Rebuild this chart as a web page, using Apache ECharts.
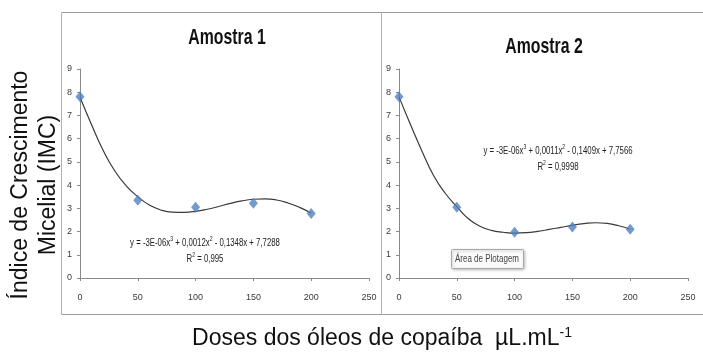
<!DOCTYPE html>
<html><head><meta charset="utf-8">
<script src="https://cdn.jsdelivr.net/npm/echarts@6/dist/echarts.min.js"></script>
<style>html,body{margin:0;padding:0;background:#fff}#c{width:703px;height:354px}</style>
</head><body><div id="c"></div>
<script>
const doses = [0, 50, 100, 150, 200];
const amostra1 = [7.8, 3.35, 3.05, 3.22, 2.78];
const amostra2 = [7.8, 3.05, 1.97, 2.2, 2.1];
const trendX = [0,10,20,30,40,50,60,70,80,90,100,110,120,130,140,150,160,170,180,190,200];
const trend1 = [7.78,6.6,5.5,4.62,3.97,3.5,3.14,2.93,2.84,2.83,2.87,2.96,3.08,3.21,3.32,3.39,3.41,3.36,3.23,3.04,2.79];
const trend2 = [7.8,6.6,5.45,4.4,3.65,3.07,2.55,2.23,2.05,1.97,1.93,1.95,2.01,2.09,2.18,2.27,2.34,2.38,2.35,2.25,2.1];
const xTicks = [0, 250, 50];
const yTicks = [0, 9, 1];
const titles = ['Amostra 1', 'Amostra 2'];
const eq1 = ['{n|y = -3E-06x}{s|3}{n| + 0,0012x}{s|2}{n| - 0,1348x + 7,7288}', '{n|R}{s|2}{n| = 0,995}'];
const eq2 = ['{n|y = -3E-06x}{s|3}{n| + 0,0011x}{s|2}{n| - 0,1409x + 7,7566}', '{n|R}{s|2}{n| = 0,9998}'];

const sans = "'Liberation Sans', Arial, sans-serif";
const axisCommon = (isX) => ({
  min: isX ? xTicks[0] : yTicks[0], max: isX ? xTicks[1] : yTicks[1], interval: isX ? xTicks[2] : yTicks[2],
  axisLine: {show: true, lineStyle: {color: '#8a8a8a', width: 1}},
  axisTick: {show: true, length: 3, lineStyle: {color: '#8a8a8a'}},
  splitLine: {show: false},
  axisLabel: {color: '#3a3a3a', fontSize: 9, fontFamily: sans, margin: isX ? 15 : 8}
});
function pairs(xs, ys){ return xs.map((x,i)=>[x, ys[i]]); }

const chart = echarts.init(document.getElementById('c'), null, {renderer: 'canvas'});
const grids = [
  {left: 80, top: 69, width: 289, height: 209},
  {left: 399, top: 69, width: 289, height: 209}
];
const eqLine = (txt, cx, cy) => ({
  type: 'text', x: cx, y: cy, scaleX: 0.78,
  style: {
    text: txt,
    rich: {
      n: {fontSize: 10, fontFamily: sans, fill: '#222', lineHeight: 12, verticalAlign: 'bottom'},
      s: {fontSize: 6.5, fontFamily: sans, fill: '#222', lineHeight: 12, verticalAlign: 'top'}
    },
    align: 'center', verticalAlign: 'middle'
  }
});
const titleText = (txt, cx, cy) => ({
  type: 'text', x: cx, y: cy, scaleX: 0.72,
  style: {text: txt, font: 'bold 22px ' + sans, fill: '#111', align: 'center', verticalAlign: 'middle'}
});
chart.setOption({
  animation: false,
  grid: grids,
  xAxis: [Object.assign({gridIndex: 0, type: 'value'}, axisCommon(true)), Object.assign({gridIndex: 1, type: 'value'}, axisCommon(true))],
  yAxis: [Object.assign({gridIndex: 0, type: 'value'}, axisCommon(false)), Object.assign({gridIndex: 1, type: 'value'}, axisCommon(false))],
  series: [
    {type: 'line', xAxisIndex: 0, yAxisIndex: 0, data: pairs(trendX, trend1), smooth: 0.5, showSymbol: false, lineStyle: {color: '#3a3a3a', width: 1.2}, z: 2},
    {type: 'line', xAxisIndex: 1, yAxisIndex: 1, data: pairs(trendX, trend2), smooth: 0.5, showSymbol: false, lineStyle: {color: '#3a3a3a', width: 1.2}, z: 2},
    {type: 'scatter', xAxisIndex: 0, yAxisIndex: 0, data: pairs(doses, amostra1), symbol: 'diamond', symbolSize: [9, 11], itemStyle: {color: '#4f81bd'}, z: 3},
    {type: 'scatter', xAxisIndex: 1, yAxisIndex: 1, data: pairs(doses, amostra2), symbol: 'diamond', symbolSize: [9, 11], itemStyle: {color: '#4f81bd'}, z: 3}
  ],
  graphic: [
    {type: 'line', shape: {x1: 61.5, y1: 12.5, x2: 703, y2: 12.5}, style: {stroke: '#9a9a9a', lineWidth: 1}},
    {type: 'line', shape: {x1: 61.5, y1: 12.5, x2: 61.5, y2: 314.5}, style: {stroke: '#b0b0b0', lineWidth: 1}},
    {type: 'line', shape: {x1: 61.5, y1: 314.5, x2: 703, y2: 314.5}, style: {stroke: '#9a9a9a', lineWidth: 1}},
    {type: 'line', shape: {x1: 381.5, y1: 12.5, x2: 381.5, y2: 314.5}, style: {stroke: '#b0b0b0', lineWidth: 1}},
    titleText(titles[0], 227, 38),
    titleText(titles[1], 544, 47),
    eqLine(eq1[0], 205, 242), eqLine(eq1[1], 205, 258),
    eqLine(eq2[0], 558, 150), eqLine(eq2[1], 558, 166),
    {type: 'rect', shape: {x: 451.5, y: 249.5, width: 72, height: 19, r: 1},
     style: {fill: '#fbfbfb', stroke: '#a8a8a8', lineWidth: 1, shadowBlur: 3, shadowOffsetX: 1, shadowOffsetY: 1, shadowColor: 'rgba(0,0,0,0.25)'}},
    {type: 'text', x: 487, y: 259, scaleX: 0.8, style: {text: 'Área de Plotagem', font: '10px ' + sans, fill: '#444', align: 'center', verticalAlign: 'middle'}},
    {type: 'text', x: 21, y: 185, rotation: Math.PI/2, style: {text: 'Índice de Crescimento', font: '23px ' + sans, fill: '#111', align: 'center', verticalAlign: 'middle'}},
    {type: 'text', x: 49, y: 185, rotation: Math.PI/2, style: {text: 'Micelial (IMC)', font: '23px ' + sans, fill: '#111', align: 'center', verticalAlign: 'middle'}},
    {type: 'text', x: 382, y: 339, style: {text: 'Doses dos óleos de copaíba  µL.mL{s|-1}', rich: {s: {fontSize: 14, fontFamily: sans, fill: '#111', padding: [0,0,11,0]}}, font: '23px ' + sans, fill: '#111', align: 'center', verticalAlign: 'middle'}}
  ]
});
</script></body></html>
